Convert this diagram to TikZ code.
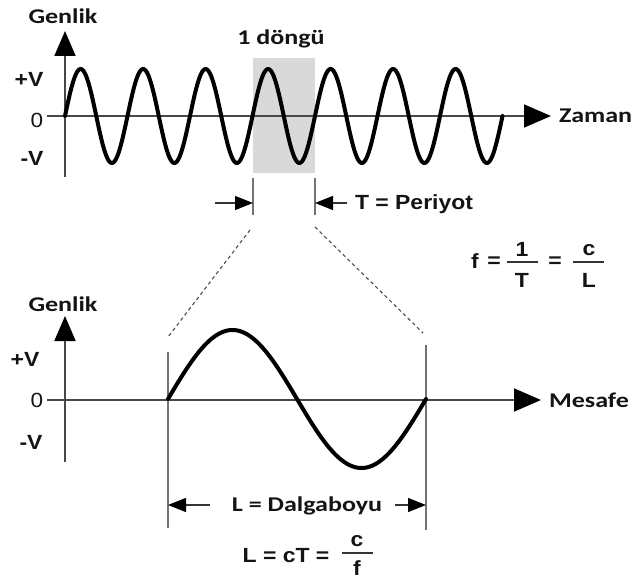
\documentclass[tikz,border=0pt]{standalone}
\usepackage{graphicx}
\usepackage{fontspec}
\setmainfont{Carlito}
\newfontfamily\arialf{Liberation Sans}
\usetikzlibrary{arrows.meta}
\newcommand{\cbf}[1]{\scalebox{1.24}[1]{\fontsize{21}{23}\selectfont\bfseries #1}}
\newcommand{\abf}[1]{\scalebox{1.12}[1]{\fontsize{20.5}{23}\selectfont\arialf\bfseries #1}}
\newcommand{\arf}[1]{\scalebox{1.1}[1]{\fontsize{20.5}{23}\selectfont\arialf #1}}
\tikzset{
  lbl/.style={inner sep=0pt, outer sep=0pt, text=black!92},
  axisline/.style={draw=black!72, line width=1.8pt},
  vtip/.style={-{Triangle[length=25pt,width=21pt,color=black]}},
  htip/.style={-{Triangle[length=27pt,width=23pt,color=black]}},
  smalltip/.style={-{Triangle[length=18pt,width=14pt,color=black]}},
  dimline/.style={draw=black!80, line width=1.4pt},
  marker/.style={draw=black!55, line width=1.6pt},
  wave/.style={draw=black, line width=4pt, line cap=round, line join=round},
  guide/.style={draw=black!70, line width=1.1pt, dash pattern=on 3.5pt off 3pt},
  fracbar/.style={draw=black!80, line width=1.3pt},
}
\begin{document}
\begin{tikzpicture}[x=1pt,y=-1pt]
\useasboundingbox (0,0) rectangle (634,585);

% ---------------- top plot ----------------
\fill[black!15] (253,58) rectangle (315,173);
\coordinate (tyb) at (65,177);
\coordinate (tyt) at (65,31);
\coordinate (txl) at (47,116);
\coordinate (txr) at (551,116);
\draw[axisline, vtip] (tyb) -- (tyt);
\draw[axisline, htip] (txl) -- (txr);
\draw[wave] plot[domain=65:502.5, samples=400] (\x,{116-47*sin(5.76*(\x-65))});

\node[lbl, anchor=base] (genlik1) at (63,24) {\cbf{Genlik}};
\node[lbl, anchor=base] (dongu) at (281,45) {\cbf{1 döngü}};
\node[lbl, anchor=west] (zaman) at (559,116) {\cbf{Zaman}};
\node[lbl] (pv1) at (29,79) {\abf{+V}};
\node[lbl] (z1) at (37,120) {\arf{0}};
\node[lbl] (mv1) at (32,158) {\abf{-V}};

% period markers
\coordinate (m1a) at (253,178); \coordinate (m1b) at (253,215);
\coordinate (m2a) at (315,178); \coordinate (m2b) at (315,215);
\draw[marker] (m1a) -- (m1b);
\draw[marker] (m2a) -- (m2b);
\coordinate (a1s) at (215,203); \coordinate (a1e) at (253,203);
\coordinate (a2s) at (347,203); \coordinate (a2e) at (315,203);
\draw[dimline, smalltip] (a1s) -- (a1e);
\draw[dimline, smalltip] (a2s) -- (a2e);
\node[lbl, anchor=west] (period) at (355,204) {\abf{T = Periyot}};

% formula f = 1/T = c/L
\node[lbl] (ff) at (475,261) {\abf{f}};
\node[lbl] (eq1) at (494,262) {\abf{=}};
\node[lbl] (one) at (522,249) {\abf{1}};
\node[lbl] (tt) at (522,280) {\abf{T}};
\coordinate (fb1a) at (507,262); \coordinate (fb1b) at (538,262);
\draw[fracbar] (fb1a) -- (fb1b);
\node[lbl] (eq2) at (555,262) {\abf{=}};
\node[lbl] (cc1) at (589,250) {\abf{c}};
\node[lbl] (ll1) at (589,280) {\abf{L}};
\coordinate (fb2a) at (573,262); \coordinate (fb2b) at (604,262);
\draw[fracbar] (fb2a) -- (fb2b);

% dashed zoom guides
\coordinate (g1a) at (250,230); \coordinate (g1b) at (168,337);
\coordinate (g2a) at (315,227); \coordinate (g2b) at (423,333);
\draw[guide] (g1a) -- (g1b);
\draw[guide] (g2a) -- (g2b);

% ---------------- bottom plot ----------------
\coordinate (byb) at (65,462);
\coordinate (byt) at (65,316);
\coordinate (bxl) at (47,400);
\coordinate (bxr) at (541,400);
\draw[axisline, vtip] (byb) -- (byt);
\draw[axisline, htip] (bxl) -- (bxr);
\coordinate (v1a) at (168,352); \coordinate (v1b) at (168,528);
\coordinate (v2a) at (426,345); \coordinate (v2b) at (426,530);
\draw[marker] (v1a) -- (v1b);
\draw[marker] (v2a) -- (v2b);
\draw[wave] plot[domain=168:426, samples=300] (\x,{399-69*sin(1.395349*(\x-168))});

\node[lbl, anchor=base] (genlik2) at (63,311) {\cbf{Genlik}};
\node[lbl] (pv2) at (25,359) {\abf{+V}};
\node[lbl] (z2) at (37,400) {\arf{0}};
\node[lbl] (mv2) at (31,442) {\abf{-V}};
\node[lbl, anchor=west] (mesafe) at (549,400) {\cbf{Mesafe}};

\coordinate (l1s) at (210,505); \coordinate (l1e) at (168,505);
\coordinate (l2s) at (395,505); \coordinate (l2e) at (426,505);
\draw[dimline, smalltip] (l1s) -- (l1e);
\draw[dimline, smalltip] (l2s) -- (l2e);
\node[lbl] (dalga) at (307,506) {\cbf{L = Dalgaboyu}};

\node[lbl] (lct) at (286,556) {\abf{L = cT =}};
\node[lbl] (cc2) at (357,541) {\abf{c}};
\node[lbl] (ff2) at (357,568) {\abf{f}};
\coordinate (fb3a) at (342,553); \coordinate (fb3b) at (373,553);
\draw[fracbar] (fb3a) -- (fb3b);
\end{tikzpicture}
\end{document}
